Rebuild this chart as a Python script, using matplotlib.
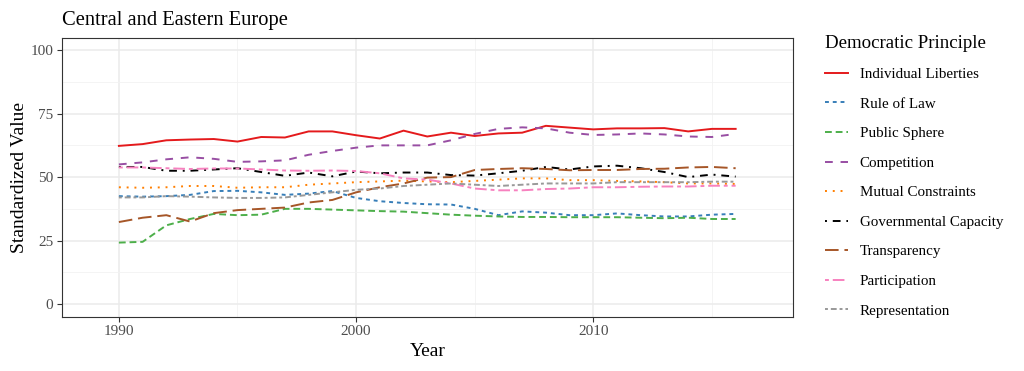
import numpy as np
import matplotlib
matplotlib.use("Agg")
import matplotlib.pyplot as plt
from matplotlib.ticker import MultipleLocator

plt.rcParams['font.family'] = ['Liberation Serif', 'DejaVu Serif']

years = np.arange(1990, 2017)

individual_liberties = [62.3, 63.0, 64.5, 64.8, 65.0, 64.0, 65.8, 65.6, 68.0, 68.0, 66.5, 65.2, 68.3, 66.0,
                        67.5, 66.2, 67.2, 67.5, 70.2, 69.5, 68.8, 69.2, 69.2, 69.3, 68.0, 69.0, 69.0]
rule_of_law = [42.5, 42.3, 42.5, 43.0, 44.5, 44.6, 44.0, 43.0, 43.5, 44.5, 41.8, 40.5, 39.8, 39.3,
               39.2, 37.5, 35.0, 36.5, 36.0, 35.0, 35.0, 35.7, 35.0, 34.5, 34.5, 35.2, 35.5]
public_sphere = [24.2, 24.5, 31.0, 33.5, 35.5, 35.0, 35.2, 37.5, 37.5, 37.2, 36.9, 36.6, 36.4, 35.8,
                 35.2, 34.8, 34.5, 34.3, 34.3, 34.2, 34.2, 34.2, 34.0, 33.8, 34.0, 33.5, 33.5]
competition = [55.0, 55.8, 57.0, 57.8, 57.2, 56.0, 56.2, 56.6, 58.8, 60.3, 61.6, 62.5, 62.5, 62.5,
               64.5, 67.0, 69.0, 69.6, 69.2, 67.5, 66.6, 66.8, 67.2, 66.8, 66.0, 65.8, 67.0]
mutual_constraints = [46.0, 45.8, 46.0, 46.5, 46.5, 45.8, 46.0, 46.0, 47.0, 47.5, 48.0, 48.3, 48.6, 48.3,
                      48.0, 48.5, 49.0, 49.5, 49.5, 48.8, 48.8, 48.5, 48.3, 48.0, 47.5, 47.5, 47.3]
governmental_capacity = [54.0, 54.0, 52.5, 52.5, 53.0, 53.5, 52.0, 50.5, 51.8, 50.3, 52.2, 51.5, 51.8, 51.8,
                         50.8, 50.6, 51.5, 52.5, 54.0, 53.0, 54.2, 54.5, 53.5, 52.0, 50.0, 51.0, 50.2]
transparency = [32.3, 34.0, 35.0, 32.5, 35.8, 37.0, 37.5, 38.0, 40.0, 41.0, 44.0, 46.0, 47.5, 49.8,
                50.0, 52.8, 53.2, 53.5, 53.2, 52.7, 52.8, 52.8, 53.2, 53.3, 53.8, 54.0, 53.5]
participation = [53.8, 53.8, 53.5, 53.2, 53.4, 53.4, 53.0, 52.6, 52.5, 52.6, 52.4, 51.5, 49.5, 49.0,
                 47.5, 45.5, 44.8, 44.8, 45.3, 45.5, 46.0, 46.0, 46.2, 46.3, 46.3, 46.6, 46.6]
representation = [42.0, 42.0, 42.5, 42.3, 42.0, 41.8, 41.8, 42.0, 43.0, 44.0, 45.0, 45.5, 46.5, 47.0,
                  47.5, 47.0, 46.5, 47.0, 47.5, 47.5, 47.5, 48.0, 48.0, 48.0, 48.0, 48.2, 48.2]

names = ["Individual Liberties", "Rule of Law", "Public Sphere", "Competition", "Mutual Constraints",
         "Governmental Capacity", "Transparency", "Participation", "Representation"]
series = [individual_liberties, rule_of_law, public_sphere, competition, mutual_constraints,
          governmental_capacity, transparency, participation, representation]
colors = ["#E41A1C", "#377EB8", "#4DAF4A", "#984EA3", "#FF7F00",
          "#000000", "#A65628", "#F781BF", "#999999"]
styles = ["-", (0, (2, 2)), (0, (3.5, 2)), (0, (4, 4)), (0, (1, 3)),
          (0, (1, 3, 4, 3)), (0, (7, 3)), (0, (2, 2, 6, 2)), (0, (1.5, 1.5, 3, 1.5))]

fig = plt.figure(figsize=(10.24, 3.71), dpi=100)
ax = fig.add_axes([0.0605, 0.1456, 0.7135, 0.752])

for vals, name, c, ls in zip(series, names, colors, styles):
    ax.plot(years, vals, color=c, linestyle=ls, linewidth=1.4, label=name)

ax.set_xlim(1987.6, 2018.4)
ax.set_ylim(-5.1, 104.8)
ax.xaxis.set_major_locator(MultipleLocator(10))
ax.xaxis.set_minor_locator(MultipleLocator(5))
ax.yaxis.set_major_locator(MultipleLocator(25))
ax.yaxis.set_minor_locator(MultipleLocator(12.5))
ax.grid(which='major', color='#EBEBEB', linewidth=1.1)
ax.grid(which='minor', color='#F2F2F2', linewidth=0.6)
ax.set_axisbelow(True)
ax.tick_params(which='major', length=3.6, width=0.8, color='#333333', labelcolor='#4D4D4D',
               labelsize=11, pad=2.5)
ax.tick_params(which='minor', length=0)
for sp in ax.spines.values():
    sp.set_color('#333333')
    sp.set_linewidth(0.8)

ax.set_xlabel("Year", fontsize=14, labelpad=3)
ax.set_ylabel("Standardized Value", fontsize=14, labelpad=2)
ax.set_title("Central and Eastern Europe", fontsize=14.8, loc='left', pad=9)

handles, labels = ax.get_legend_handles_labels()
leg = fig.legend(handles, labels, loc='upper left', bbox_to_anchor=(0.792, 0.943),
                 frameon=False, fontsize=10.8, title="Democratic Principle", title_fontsize=13.6,
                 handlelength=1.55, handletextpad=0.8, labelspacing=1.07, alignment='left')

fig.savefig("out.png", dpi=100)
